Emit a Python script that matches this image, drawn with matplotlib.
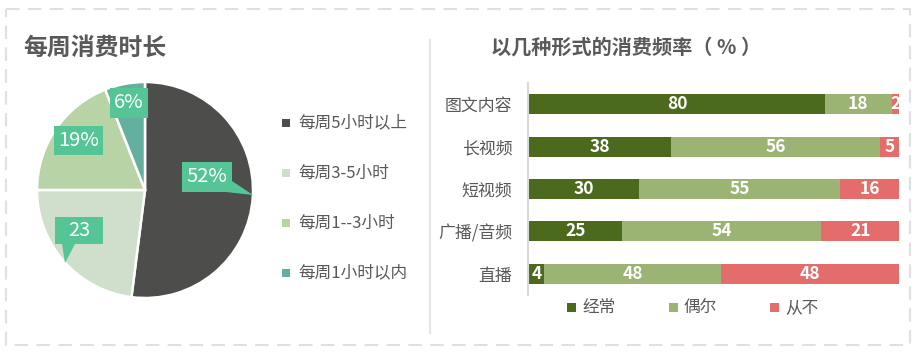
import numpy as np
import matplotlib.pyplot as plt
from matplotlib.patches import Rectangle, Polygon
from matplotlib.transforms import Affine2D

plt.rcParams['font.family'] = ['Noto Sans CJK SC', 'DejaVu Sans']

# 左图：每周消费时长
pie_names = ['每周5小时以上', '每周3-5小时', '每周1--3小时', '每周1小时以内']
pie_values = [52, 23, 19, 6]
pie_labels = ['52%', '23', '19%', '6%']
pie_colors = ['#4D4D4B', '#CFDFCC', '#B8D3A6', '#62B09D']

# 右图：以几种形式的消费频率
forms = ['图文内容', '长视频', '短视频', '广播/音频', '直播']
often = [80, 38, 30, 25, 4]
sometimes = [18, 56, 55, 54, 48]
never = [2, 5, 16, 21, 48]
freq_names = ['经常', '偶尔', '从不']
freq_colors = ['#4B6A1D', '#9BB474', '#E46C6B']

W, H = 923, 352
grey = '#595959'
callout = '#56C596'

fig = plt.figure(figsize=(W / 100, H / 100), dpi=100)
# 像素坐标（左上角为原点）
pix = Affine2D().scale(1 / W, -1 / H).translate(0, 1) + fig.transFigure


def px_box(x0, y0, x1, y1):
    return [x0 / W, 1 - y1 / H, (x1 - x0) / W, (y1 - y0) / H]


# 外框和分隔线
fig.add_artist(Rectangle((6, 9), 904, 336, transform=pix, fill=False,
                         edgecolor='#E0E0E0', lw=1.5, ls=(0, (6.5, 4))))
fig.add_artist(plt.Line2D([430, 430], [40, 333], transform=pix,
                          color='#E6E6E6', lw=1.5))

# ---- 饼图 ----
fig.text(23 / W, 1 - 48 / H, '每周消费时长', fontsize=17.2, weight='bold',
         color=grey, va='center')
ax1 = fig.add_axes(px_box(37, 82, 253, 298))
wedges, _ = ax1.pie(pie_values, colors=pie_colors, startangle=90,
                    counterclock=False,
                    wedgeprops=dict(edgecolor='white', linewidth=1.8))
for w in wedges:
    w.set_clip_on(False)
ax1.set_xlim(-1, 1)
ax1.set_ylim(-1, 1)

# 数据标签（标注框）
boxes = [(182, 162, 232, 192), (55, 217, 103, 244),
         (54, 126, 103, 155), (110, 88, 148, 118)]
pointers = [[(232, 181), (226, 192), (253, 195)],
            [(62, 244), (75, 244), (65, 263)],
            None, None]
for lab, (x0, y0, x1, y1), tri in zip(pie_labels, boxes, pointers):
    fig.add_artist(Rectangle((x0, y0), x1 - x0, y1 - y0, transform=pix,
                             facecolor=callout, edgecolor='none'))
    if tri:
        fig.add_artist(Polygon(tri, closed=True, transform=pix,
                               facecolor=callout, edgecolor='none'))
    fig.text((x0 + x1) / 2 / W, 1 - (y0 + y1) / 2 / H, lab, color='white',
             fontsize=14.5, ha='center', va='center')

for i, (name, c) in enumerate(zip(pie_names, pie_colors)):
    y = 123 + 50 * i
    fig.add_artist(Rectangle((282, y - 4), 8, 8, transform=pix,
                             facecolor=c, edgecolor='none'))
    fig.text(298 / W, 1 - y / H, name, fontsize=12, color=grey, va='center')

# ---- 100%堆积条形图 ----
fig.text(626 / W, 1 - 47 / H, '以几种形式的消费频率（ % ）', fontsize=14.5,
         weight='bold', color=grey, ha='center', va='center')
ax2 = fig.add_axes(px_box(529, 83, 899, 295))
data = np.array([often, sometimes, never], dtype=float)
shares = data / data.sum(axis=0)
ypos = np.arange(len(forms))
left = np.zeros(len(forms))
for vals, sh, c in zip(data, shares, freq_colors):
    ax2.barh(ypos, sh, left=left, height=0.47, color=c, edgecolor='none')
    for yy, l, s, v in zip(ypos, left, sh, vals):
        ax2.text(l + s / 2, yy, f'{v:.0f}', color='white', fontsize=12.5,
                 weight='bold', ha='center', va='center')
    left = left + sh
ax2.set_xlim(0, 1)
ax2.set_ylim(len(forms) - 0.5, -0.5)
ax2.set_yticks(ypos, forms)
ax2.set_xticks([])
ax2.tick_params(axis='y', length=0, pad=11, labelsize=12.2, labelcolor=grey)
for s in ['top', 'right', 'bottom']:
    ax2.spines[s].set_visible(False)
ax2.spines['left'].set_color('#D9D9D9')
ax2.spines['left'].set_linewidth(1.5)
ax2.spines['left'].set_position(('outward', 1))

for i, (name, c) in enumerate(zip(freq_names, freq_colors)):
    x = 567 + 101.5 * i
    fig.add_artist(Rectangle((x, 303), 9, 9, transform=pix,
                             facecolor=c, edgecolor='none'))
    fig.text((x + 15) / W, 1 - 307.5 / H, name, fontsize=12, color=grey,
             va='center')

fig.savefig('out.png', dpi=100)
